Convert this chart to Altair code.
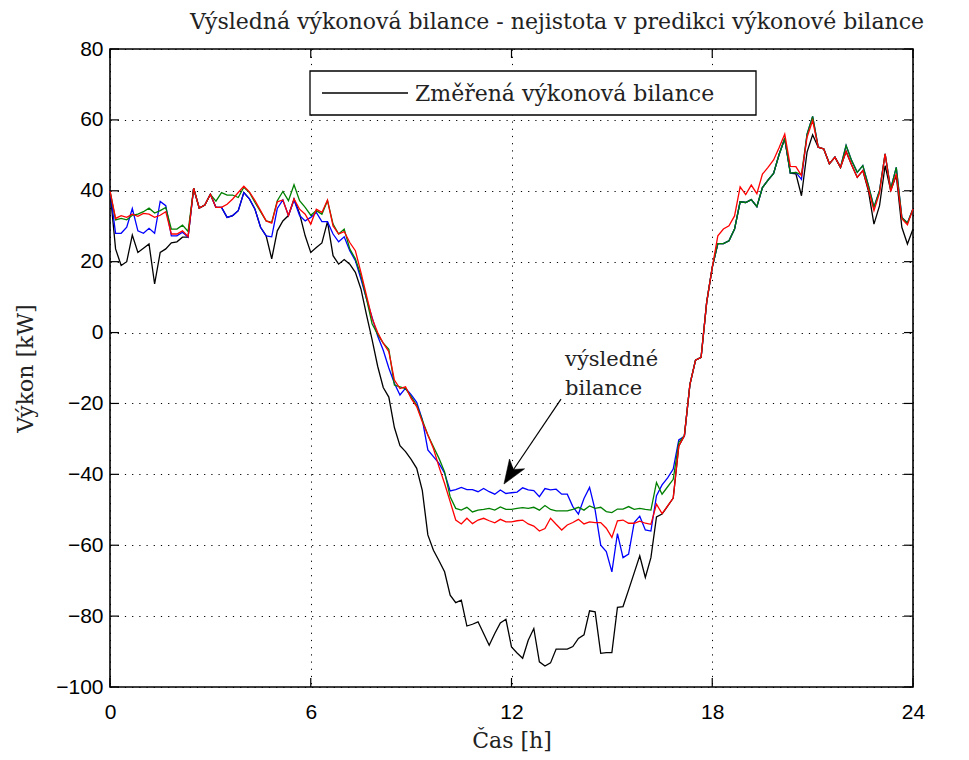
import altair as alt
import pandas as pd

# ---- data (10-minute samples, 0..24 h) ----
hours = [i / 6 for i in range(145)]

measured = [  # black: Změřená výkonová bilance
    40, 23.6, 18.9, 20, 27.5, 22.6, 23.8, 25, 13.7, 22.6,
    23.6, 25.3, 25.6, 26.9, 26.9, 40.7, 35.1, 36, 39, 35.3,
    35.3, 32.5, 33, 34.4, 39.5, 37.7, 34.8, 29.7, 27.3, 20.8,
    28.7, 31.5, 33, 37.7, 33.5, 27.3, 22.6, 24, 25.3, 31.3,
    21.7, 19.3, 20.6, 19.3, 17, 12.3, 5, -2, -9.5, -15.5,
    -18.2, -26.8, -31.9, -33.6, -35.8, -38.3, -44.5, -57.1, -61.4, -64.4,
    -67.5, -74.1, -76.2, -75.5, -82.8, -82.3, -81.6, -84.9, -88.2, -84.9,
    -81.9, -80.9, -88.7, -90.4, -91.9, -86.8, -83.5, -92.9, -94.1, -93.2,
    -89.3, -89.3, -89.3, -88.6, -86.3, -85.3, -78.5, -78.8, -90.5, -90.3,
    -90.3, -77.5, -77.3, -72.6, -67.8, -63, -69.1, -63.5, -52, -51.2,
    -49, -46.7, -32, -29.1, -14.6, -7.8, -7, 8.5, 18.4, 25.1,
    25.1, 25.9, 29.2, 36.9, 36.7, 37.5, 35.5, 40.9, 43, 44.9,
    50.3, 54.6, 45, 44.8, 38.6, 50.9, 55.8, 52.3, 51.8, 47.6,
    49.5, 46.6, 51.1, 47.3, 43.8, 45.7, 40, 30.6, 35.8, 47.1,
    40.1, 44.3, 29.7, 25, 29.2,
]

blue_series = [
    40, 28, 28, 29.7, 35, 28.7, 28, 29.4, 28, 37,
    35.8, 27.3, 27.3, 28.3, 26.9, 40.7, 35.1, 36, 39, 35.3,
    35.3, 32.5, 33, 34.4, 39.5, 37.7, 34.8, 29.7, 27.3, 27,
    35, 37.4, 33, 37.4, 33, 31.5, 32.5, 33.9, 31.3, 31.3,
    27.8, 25.6, 27, 23.1, 20.3, 15.1, 9.5, 4.3, -1, -5,
    -10, -14.3, -17.6, -15.7, -17.5, -19.7, -24.5, -33.1, -35, -36.9,
    -39.7, -44.7, -44.3, -43.7, -44.3, -44.3, -44.9, -44, -44.9, -45.6,
    -44.4, -45.4, -45.2, -45, -43.8, -44.4, -44.6, -46.3, -44, -44.4,
    -44.2, -45.6, -45.6, -49.1, -51.2, -46.8, -43.7, -50.1, -60, -61.8,
    -67.5, -56.7, -63.5, -62.5, -53.6, -51.8, -55.7, -56, -46, -43,
    -41, -38.5, -30.3, -29.3, -14.6, -7.8, -7, 8.5, 18.4, 25.1,
    25.1, 25.9, 29.2, 36.9, 36.7, 37.5, 35.5, 40.9, 43, 44.9,
    50.3, 54.8, 45, 45.2, 43.2, 56, 61, 52.3, 51.8, 47.6,
    49.5, 46.6, 52.8, 48.5, 45.2, 47.1, 41.5, 35.4, 40.1, 50.4,
    40.5, 46.6, 32.5, 30.9, 34.9,
]

green_series = [
    40, 31.8, 32.2, 31.8, 33.1, 33.4, 34.1, 35.1, 33.7, 34.4,
    35.3, 29.2, 29.2, 30.3, 28.5, 40.7, 35.1, 36, 39, 37.1,
    39.5, 38.8, 38.8, 38.1, 41, 39.5, 36.7, 34.1, 31.5, 31.1,
    37.2, 39.8, 37.2, 41.7, 37.2, 35.3, 33.1, 34.4, 33.4, 37.2,
    30.6, 27.8, 29.2, 23.6, 20.8, 16.1, 9.5, 2.5, -0.5, -3,
    -4.7, -14.8, -15.3, -15.8, -18.1, -20.5, -24.7, -28.9, -32.2, -35.5,
    -39.3, -46.3, -49.6, -50.1, -49.3, -50.6, -50.1, -49.9, -49.6, -50.1,
    -49.2, -49.9, -49.9, -49.6, -49.4, -49.6, -49.3, -50.1, -48.8, -49.9,
    -50.3, -50.3, -50.3, -49.9, -49.3, -50.1, -48.9, -49.6, -49.3, -50.5,
    -50.8, -49.8, -49.8, -49.1, -49.9, -49.6, -49.9, -50.1, -42.3, -45.6,
    -43.5, -41.4, -31, -29.1, -14.6, -7.8, -7, 8.5, 18.4, 25.1,
    25.1, 25.9, 29.2, 36.9, 36.7, 37.5, 35.5, 40.9, 43, 44.9,
    50.3, 54.8, 45, 45.2, 44.5, 56, 61, 52.3, 51.8, 47.6,
    49.5, 46.6, 52.8, 48.5, 45.2, 47.1, 41.5, 35.4, 40.1, 50.4,
    40.5, 46.6, 32.5, 30.9, 34.9,
]

red_series = [
    40, 32.2, 33, 32.5, 33.4, 32.8, 33.6, 33.4, 32.5, 33.1,
    34.1, 27.8, 27.8, 28.7, 27.1, 40.7, 35.1, 36, 39, 35.3,
    35.3, 36.2, 37.7, 39.5, 41.3, 39.7, 37.2, 34.4, 31.5, 30.9,
    36.9, 37.4, 33, 37.7, 34.8, 33.4, 30.6, 34.8, 33.9, 37.4,
    30.1, 27.8, 28.5, 25.4, 23.1, 17, 10.4, 4, 0, -3,
    -5.4, -13.4, -15.8, -15.3, -18.6, -20.9, -25.2, -28.9, -32.7, -37.9,
    -42.6, -47.7, -52.9, -54, -52.4, -53.9, -52.9, -52.4, -53.1, -53.7,
    -52.7, -53.4, -53.4, -53.1, -52.9, -54, -54.6, -56, -55.3, -52.4,
    -54.1, -55.7, -54.3, -53.6, -52.7, -54, -53.4, -53.6, -53.6, -55.2,
    -57.8, -53.1, -52.9, -53.8, -53.8, -53.2, -53.8, -54.1, -48.4, -51.1,
    -48.9, -46.7, -32, -29.1, -14.6, -7.8, -7, 8.5, 18.4, 27.3,
    29.2, 30.1, 32.9, 41.1, 38.9, 41.6, 39.2, 44.7, 46.6, 48.7,
    52.2, 56, 46.9, 46.8, 44.3, 55.1, 59.8, 52.3, 51.8, 47.6,
    49.5, 46.6, 51.1, 47.3, 43.8, 45.7, 40.5, 34.4, 39.4, 50.4,
    39.8, 44.8, 32.1, 30.4, 34.9,
]

x_ticks = [0, 6, 12, 18, 24]
y_ticks = [-100, -80, -60, -40, -20, 0, 20, 40, 60, 80]

title_text = "Výsledná výkonová bilance - nejistota v predikci výkonové bilance"
x_title = "Čas [h]"
y_title = "Výkon [kW]"
legend_label = "Změřená výkonová bilance"
note_lines = ["výsledné", "bilance"]
note_t = [13.6, 13.6]
note_v = [-9.4, -17.6]
arrow_tail = (13.48, -18.8)
arrow_head = (11.97, -39.9)

SERIF = "DejaVu Serif"
SANS = "Liberation Sans"
TXT = "#222222"
W, H = 803, 638

x_enc = alt.X(
    "t:Q",
    scale=alt.Scale(domain=[0, 24], nice=False, zero=False),
    axis=alt.Axis(
        values=x_ticks, title=x_title, grid=True, gridColor="black", gridOpacity=1,
        gridDash=[1.2, 6], gridWidth=1, domain=False, ticks=False, tickSize=0,
        labelFont=SANS, labelFontSize=21, labelColor="black", labelPadding=14,
        labelFlush=False, labelOverlap=False, labelBaseline="top",
        titleFont=SERIF, titleFontSize=22, titleFontWeight="normal", titleColor=TXT,
        titleY=60, titleBaseline="alphabetic",
    ),
)
y_enc = alt.Y(
    "v:Q",
    scale=alt.Scale(domain=[-100, 80], nice=False, zero=False),
    axis=alt.Axis(
        values=y_ticks, title=y_title, grid=True, gridColor="black", gridOpacity=1,
        gridDash=[1.2, 6], gridWidth=1, domain=False, ticks=False, tickSize=0,
        labelFont=SANS, labelFontSize=21, labelColor="black", labelPadding=7,
        labelOverlap=False, labelFlush=False,
        titleFont=SERIF, titleFontSize=22, titleFontWeight="normal", titleColor=TXT,
        titleX=-85, titleY=H / 2, titleAngle=270, titleAlign="center",
        titleBaseline="middle",
    ),
)


def line_layer(vals, color):
    df = pd.DataFrame({"t": hours, "v": vals})
    return alt.Chart(df).mark_line(color=color, strokeWidth=1.3).encode(x=x_enc, y=y_enc)


lines = [
    line_layer(measured, "black"),
    line_layer(blue_series, "#0000ff"),
    line_layer(green_series, "#008000"),
    line_layer(red_series, "#ff0000"),
]

# inward ticks on all four sides
ydf = pd.DataFrame({"v": y_ticks})
xdf = pd.DataFrame({"t": x_ticks})
tick_style = dict(color="black", strokeWidth=1.2)
ticks = [
    alt.Chart(ydf).mark_rule(**tick_style).encode(y=y_enc, x=alt.value(0), x2=alt.value(9)),
    alt.Chart(ydf).mark_rule(**tick_style).encode(y=y_enc, x=alt.value(W - 9), x2=alt.value(W)),
    alt.Chart(xdf).mark_rule(**tick_style).encode(x=x_enc, y=alt.value(H), y2=alt.value(H - 9)),
    alt.Chart(xdf).mark_rule(**tick_style).encode(x=x_enc, y=alt.value(0), y2=alt.value(9)),
]

# annotation
note_df = pd.DataFrame({"t": note_t, "v": note_v, "label": note_lines})
note = alt.Chart(note_df).mark_text(
    align="left", baseline="alphabetic", font=SERIF, fontSize=21, color=TXT
).encode(x=x_enc, y=y_enc, text="label:N")

arrow_df = pd.DataFrame({"t": [arrow_tail[0]], "v": [arrow_tail[1]],
                         "t2": [arrow_head[0]], "v2": [arrow_head[1]]})
shaft = alt.Chart(arrow_df).mark_rule(color="black", strokeWidth=1.2).encode(
    x=x_enc, y=y_enc, x2="t2:Q", y2="v2:Q")
head_df = pd.DataFrame({"t": [arrow_head[0]], "v": [arrow_head[1]]})
head = alt.Chart(head_df).mark_point(
    shape="M0,-1 L0.75,1 L0,0.45 L-0.75,1 Z", filled=True, fill="black", stroke="black",
    strokeWidth=0.5, opacity=1, size=576, angle=213,
).encode(x=x_enc, y=y_enc)

# legend box
leg_df = pd.DataFrame({"label": [legend_label]})
leg_box = alt.Chart(leg_df).mark_rect(fill="white", stroke="black", strokeWidth=1.3).encode(
    x=alt.value(200), x2=alt.value(646), y=alt.value(22), y2=alt.value(66))
leg_line = alt.Chart(leg_df).mark_rule(color="black", strokeWidth=1.3).encode(
    x=alt.value(212), x2=alt.value(298), y=alt.value(44))
leg_text = alt.Chart(leg_df).mark_text(
    align="left", baseline="alphabetic", font=SERIF, fontSize=22, color=TXT
).encode(x=alt.value(305), y=alt.value(52), text="label:N")

# chart title (as a text mark, placed above the plot frame)
title_df = pd.DataFrame({"label": [title_text]})
title = alt.Chart(title_df).mark_text(
    align="center", baseline="alphabetic", font=SERIF, fontSize=22, color=TXT
).encode(x=alt.value(447), y=alt.value(-20), text="label:N")

chart = alt.layer(*lines, *ticks, shaft, head, note, leg_box, leg_line, leg_text, title).properties(
    width=W, height=H,
    autosize=alt.AutoSizeParams(type="none"),
    padding={"left": 102, "top": 41, "right": 48, "bottom": 65},
    background="white",
).configure_view(stroke="black", strokeWidth=1.6)

chart.save("out.html", embed_options={"renderer": "svg", "actions": False})
